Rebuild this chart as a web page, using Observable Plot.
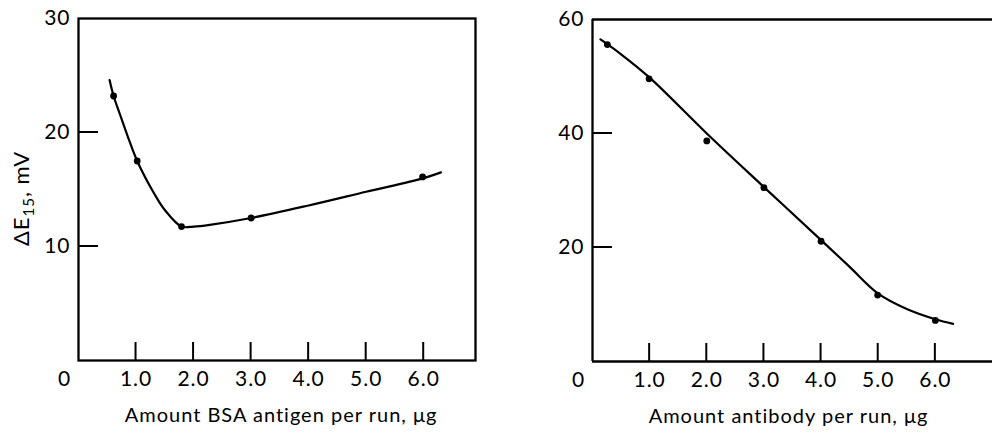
<!DOCTYPE html>
<html>
<head>
<meta charset="utf-8">
<script src="https://cdn.jsdelivr.net/npm/d3@7"></script>
<script src="https://cdn.jsdelivr.net/npm/@observablehq/plot@0.6"></script>
<style>
  html, body { margin: 0; padding: 0; background: #fff; overflow: hidden; }
  #wrap { position: relative; width: 992px; height: 433px; }
  #left, #right { position: absolute; top: 0; }
  #left { left: 0; }
  #right { left: 496px; }
  svg text { letter-spacing: 1px; }
</style>
</head>
<body>
<div id="wrap"><div id="left"></div><div id="right"></div></div>
<script>
// ---- Left panel: BSA antigen ----
const antigenX = [0.61, 1.02, 1.79, 3.0, 5.98];
const antigenY = [23.2, 17.5, 11.75, 12.5, 16.1];
const antigenCurveX = [0.54, 0.61, 0.72, 0.86, 1.02, 1.32, 1.5, 1.79, 2.0, 2.28, 3.0, 4.0, 5.0, 6.0, 6.3];
const antigenCurveY = [24.6, 23.2, 21.6, 19.6, 17.5, 14.6, 13.2, 11.75, 11.75, 11.9, 12.5, 13.6, 14.8, 16.0, 16.5];
const leftYTicks = [10, 20, 30];
const leftYInner = [10, 20];

// ---- Right panel: antibody ----
const antibodyX = [0.26, 0.99, 2.0, 3.0, 4.0, 4.99, 6.0];
const antibodyY = [55.6, 49.6, 38.7, 30.5, 21.1, 11.65, 7.2];
const antibodyCurveX = [0.14, 0.5, 1.0, 2.0, 3.0, 4.0, 4.5, 5.0, 5.5, 6.0, 6.31];
const antibodyCurveY = [56.5, 53.9, 49.8, 40.0, 30.6, 21.3, 16.6, 11.9, 9.2, 7.4, 6.6];
const rightYTicks = [20, 40, 60];
const rightYInner = [20, 40];

// ---- shared ----
const xTicks = [1, 2, 3, 4, 5, 6];
const zeroLabel = [0];
const yTitleMain = "ΔE";
const yTitleSub = "15";
const yTitleRest = ", mV";
const xTitleLeft = "Amount BSA antigen per run, μg";
const xTitleRight = "Amount antibody per run, μg";

const font = "Lato, 'DejaVu Sans', sans-serif";
const zip = (xs, ys) => xs.map((x, i) => ({x, y: ys[i]}));

function labels(yTicks) {
  return [
    Plot.text(xTicks, {x: d => d, y: () => 0, text: d => d.toFixed(1), dy: 19, fontSize: 21, fill: "black"}),
    Plot.text(zeroLabel, {x: d => d, y: () => 0, text: d => String(d), dy: 19, dx: -14, fontSize: 21, fill: "black"}),
    Plot.text(yTicks, {x: () => 0, y: d => d, text: d => String(d), textAnchor: "end", dx: -8, fontSize: 21, fill: "black"})
  ];
}

// Inward tick marks, placed with the plot's own x and y scales, appended on top
function addInwardTicks(plot, yInner) {
  const sx = plot.scale("x"), sy = plot.scale("y");
  const ns = "http://www.w3.org/2000/svg";
  const g = document.createElementNS(ns, "g");
  g.setAttribute("aria-label", "inward ticks");
  g.setAttribute("stroke", "black");
  g.setAttribute("stroke-width", "2");
  const y0 = sy.apply(0), x0 = sx.apply(0);
  xTicks.forEach(t => {
    const px = sx.apply(t);
    const l = document.createElementNS(ns, "line");
    l.setAttribute("x1", px); l.setAttribute("x2", px);
    l.setAttribute("y1", y0); l.setAttribute("y2", y0 - 18);
    g.append(l);
  });
  yInner.forEach(t => {
    const py = sy.apply(t);
    const l = document.createElementNS(ns, "line");
    l.setAttribute("x1", x0); l.setAttribute("x2", x0 + 20);
    l.setAttribute("y1", py); l.setAttribute("y2", py);
    g.append(l);
  });
  plot.append(g);
}

const leftPlot = Plot.plot({
  width: 496, height: 433,
  marginLeft: 78, marginRight: 21, marginTop: 18, marginBottom: 73,
  style: {fontFamily: font, fontSize: "20px", color: "black", background: "white", overflow: "visible"},
  x: {domain: [0, 6.9], axis: null},
  y: {domain: [0, 30], axis: null},
  marks: [
    Plot.frame({stroke: "black", strokeWidth: 2.3}),
    ...labels(leftYTicks),
    Plot.line(zip(antigenCurveX, antigenCurveY), {x: "x", y: "y", curve: "catmull-rom", stroke: "black", strokeWidth: 2.2}),
    Plot.dot(zip(antigenX, antigenY), {x: "x", y: "y", r: 3.4, fill: "black", stroke: "none"}),
    Plot.text([yTitleMain + yTitleSub + yTitleRest], {frameAnchor: "left", textAnchor: "middle", rotate: -90, dx: -57, dy: 9, fontSize: 22, fill: "black"}),
    Plot.text([xTitleLeft], {frameAnchor: "bottom", dy: 61, dx: 4, fontSize: 20, fill: "black"})
  ]
});
addInwardTicks(leftPlot, leftYInner);
document.getElementById("left").append(leftPlot);

// Render the subscript of the y-axis title with tspans
leftPlot.querySelectorAll("text").forEach(t => {
  if (t.textContent === yTitleMain + yTitleSub + yTitleRest) {
    const ns = "http://www.w3.org/2000/svg";
    t.textContent = "";
    const a = document.createElementNS(ns, "tspan"); a.textContent = yTitleMain;
    const b = document.createElementNS(ns, "tspan"); b.textContent = yTitleSub;
    b.setAttribute("font-size", "15"); b.setAttribute("dy", "5");
    const c = document.createElementNS(ns, "tspan"); c.textContent = yTitleRest; c.setAttribute("dy", "-5");
    t.append(a, b, c);
  }
});

const rightPlot = Plot.plot({
  width: 496, height: 433,
  marginLeft: 96, marginRight: 0, marginTop: 19, marginBottom: 72,
  style: {fontFamily: font, fontSize: "20px", color: "black", background: "white", overflow: "visible"},
  x: {domain: [0, 7.0], axis: null},
  y: {domain: [0, 60], axis: null},
  marks: [
    Plot.ruleY([0, 60], {stroke: "black", strokeWidth: 2.3}),
    Plot.ruleX([0], {stroke: "black", strokeWidth: 2.3}),
    ...labels(rightYTicks),
    Plot.line(zip(antibodyCurveX, antibodyCurveY), {x: "x", y: "y", curve: "catmull-rom", stroke: "black", strokeWidth: 2.2}),
    Plot.dot(zip(antibodyX, antibodyY), {x: "x", y: "y", r: 3.4, fill: "black", stroke: "none"}),
    Plot.text([xTitleRight], {frameAnchor: "bottom", dy: 61, dx: -4, fontSize: 20, fill: "black"})
  ]
});
addInwardTicks(rightPlot, rightYInner);
document.getElementById("right").append(rightPlot);
</script>
</body>
</html>
